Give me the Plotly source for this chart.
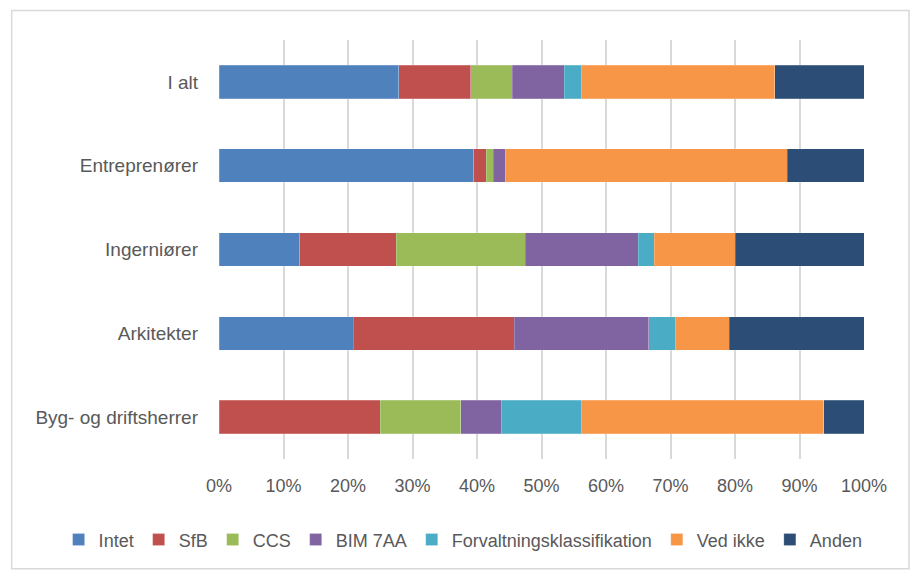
import plotly.graph_objects as go

FONT_FAMILY = "Liberation Sans, Arial, sans-serif"
TEXT_COLOR = "#595959"
GRID_COLOR = "#d9d9d9"

groups = ["I alt", "Entreprenører", "Ingerniører", "Arkitekter", "Byg- og driftsherrer"]

intet = [27.9, 39.5, 12.5, 20.8, 0.0]
sfb = [11.1, 1.9, 15.0, 25.0, 25.0]
ccs = [6.5, 1.1, 20.0, 0.0, 12.5]
bim_7aa = [8.0, 1.9, 17.5, 20.8, 6.25]
forvaltning = [2.7, 0.0, 2.5, 4.2, 12.5]
ved_ikke = [30.0, 43.7, 12.5, 8.3, 37.5]
anden = [13.8, 11.9, 20.0, 20.9, 6.25]

series = [
    ("Intet", intet, "#4F81BD"),
    ("SfB", sfb, "#C0504D"),
    ("CCS", ccs, "#9BBB59"),
    ("BIM 7AA", bim_7aa, "#8064A2"),
    ("Forvaltningsklassifikation", forvaltning, "#4BACC6"),
    ("Ved ikke", ved_ikke, "#F79646"),
    ("Anden", anden, "#2C4D75"),
]

fig = go.Figure()
for name, values, color in series:
    fig.add_trace(go.Bar(
        y=groups, x=values, name=name, orientation="h",
        marker=dict(color=color, line=dict(color="rgba(255,255,255,0.35)", width=0.6)),
    ))

# plot area: x 218.5..864, y 39.5..459 px
fig.update_layout(
    width=911, height=571,
    barmode="stack", bargap=0.6,
    paper_bgcolor="white", plot_bgcolor="white",
    font=dict(family=FONT_FAMILY, color=TEXT_COLOR, size=18),
    margin=dict(l=218.5, r=47, t=39.5, b=112, autoexpand=False),
    showlegend=True,
    legend=dict(
        orientation="h", x=(58 - 218.5) / 645.5, xanchor="left",
        y=(459 - 540) / 419.5, yanchor="middle",
        font=dict(family=FONT_FAMILY, color=TEXT_COLOR, size=18),
        traceorder="normal", itemclick=False, itemwidth=30,
    ),
    xaxis=dict(
        range=[0, 100], dtick=10, ticksuffix="%",
        showgrid=True, gridcolor=GRID_COLOR, gridwidth=1.5,
        zeroline=False, showline=False, ticks="",
        ticklabelstandoff=14,
    ),
    yaxis=dict(
        autorange="reversed", showgrid=False, showline=False,
        ticks="", ticklabelstandoff=20, tickfont=dict(size=19),
    ),
    shapes=[dict(
        type="rect", xref="paper", yref="paper",
        x0=(11 - 218.5) / 645.5, x1=(909 - 218.5) / 645.5,
        y0=(459 - 569) / 419.5, y1=(459 - 10) / 419.5,
        line=dict(color="#d9d9d9", width=1.5), fillcolor="rgba(0,0,0,0)",
        layer="below",
    )],
)

fig.write_html("out.html", config={"displayModeBar": False},
               post_script="document.body.style.margin='0';")
